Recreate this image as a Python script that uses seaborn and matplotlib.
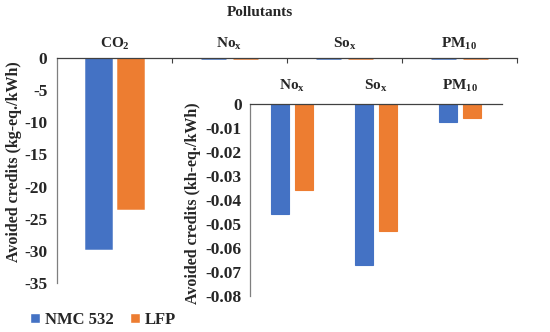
import matplotlib
matplotlib.use('Agg')
import matplotlib.pyplot as plt
import numpy as np
import pandas as pd
import seaborn as sns
from matplotlib.patches import Patch

# data
pollutants = ['CO$_\\mathrm{2}$', 'No$_\\mathrm{x}$', 'So$_\\mathrm{x}$', 'PM$_\\mathrm{10}$']
nmc532 = [-29.6, -0.046, -0.067, -0.0075]
lfp = [-23.3, -0.036, -0.053, -0.006]

inset_pollutants = ['No$_\\mathrm{x}$', 'So$_\\mathrm{x}$', 'PM$_\\mathrm{10}$']
inset_nmc532 = [-0.046, -0.067, -0.0075]
inset_lfp = [-0.036, -0.053, -0.006]

main_ticks = [0, -5, -10, -15, -20, -25, -30, -35]
inset_ticks = [0, -0.01, -0.02, -0.03, -0.04, -0.05, -0.06, -0.07, -0.08]
inset_tick_labels = ['0', '-0.01', '-0.02', '-0.03', '-0.04', '-0.05', '-0.06', '-0.07', '-0.08']

batteries = ['NMC 532', 'LFP']
colors = ['#4472C4', '#ED7D31']

sns.set_style('white')
plt.rcParams['font.family'] = ['Liberation Serif', 'DejaVu Serif']
plt.rcParams['font.weight'] = 'bold'
plt.rcParams['axes.unicode_minus'] = False
plt.rcParams['mathtext.fontset'] = 'custom'
plt.rcParams['mathtext.rm'] = 'Liberation Serif:bold'
plt.rcParams['mathtext.it'] = 'Liberation Serif:italic:bold'
plt.rcParams['mathtext.bf'] = 'Liberation Serif:bold'


def long_table(cats, a, b):
    return pd.DataFrame({
        'pollutant': cats * 2,
        'battery': [batteries[0]] * len(cats) + [batteries[1]] * len(cats),
        'value': list(a) + list(b),
    })


def style_axis(ax, cats, pad_top, pad_left, edge_lw):
    ax.xaxis.tick_top()
    ax.set_xticks(range(len(cats)))
    ax.set_xticklabels(cats, fontsize=11, fontweight='bold')
    ax.tick_params(axis='x', which='major', length=0, pad=pad_top)
    ax.tick_params(axis='y', length=0, pad=pad_left, labelsize=12.5)
    ax.set_xlabel('')
    for s in ['right', 'bottom']:
        ax.spines[s].set_visible(False)
    ax.spines['left'].set_color('#7f7f7f')
    ax.spines['top'].set_color('#404040')
    ax.spines['left'].set_linewidth(0.9)
    ax.spines['top'].set_linewidth(0.9)
    for lab in ax.get_yticklabels():
        lab.set_fontweight('bold')
    # outline in the bar colour so near-zero bars still show as a line
    for p in ax.patches:
        p.set_edgecolor(p.get_facecolor())
        p.set_linewidth(edge_lw)


fig = plt.figure(figsize=(5.5, 3.32), dpi=100)

# main chart
ax = fig.add_axes([57 / 550, 1 - 283 / 332, 460 / 550, 225 / 332])
sns.barplot(data=long_table(pollutants, nmc532, lfp), x='pollutant', y='value',
            hue='battery', palette=colors, width=0.57, gap=0.24,
            legend=False, ax=ax, saturation=1)
ax.set_ylim(-35, 0)
ax.set_xlim(-0.5, 3.5)
ax.set_yticks(main_ticks)
ax.set_yticklabels([str(t) for t in main_ticks])
style_axis(ax, pollutants, 4, 7, 1.8)
ax.set_xticks([0.5, 1.5, 2.5, 3.5], minor=True)
ax.tick_params(axis='x', which='minor', direction='in', length=3.5,
               width=0.8, color='#404040')
ax.set_ylabel('Avoided credits (kg-eq./kWh)', fontsize=11.5, fontweight='bold',
              va='center')
ax.yaxis.set_label_coords(-0.094, 0.54)

# inset chart
ax2 = fig.add_axes([250 / 550, 1 - 296 / 332, 252 / 550, 192 / 332])
ax2.set_facecolor('white')
sns.barplot(data=long_table(inset_pollutants, inset_nmc532, inset_lfp),
            x='pollutant', y='value', hue='battery', palette=colors,
            width=0.56, gap=0.22, legend=False, ax=ax2, saturation=1)
ax2.set_ylim(-0.08, 0)
ax2.set_xlim(-0.5, 2.5)
ax2.set_yticks(inset_ticks)
ax2.set_yticklabels(inset_tick_labels)
style_axis(ax2, inset_pollutants, 7, 6, 0.8)
ax2.set_ylabel('Avoided credits (kh-eq./kWh)', fontsize=11.5, fontweight='bold',
               va='center')
ax2.yaxis.set_label_coords(-0.225, 0.484)

fig.text(260 / 550, 1 - 12 / 332, 'Pollutants', ha='center', va='center',
         fontsize=11, fontweight='bold')

handles = [Patch(facecolor=c, label=b) for c, b in zip(colors, batteries)]
fig.legend(handles=handles, loc='center', bbox_to_anchor=(103 / 550, 1 - 320 / 332),
           ncol=2, frameon=False, handlelength=0.6, handleheight=0.6,
           handletextpad=0.3, columnspacing=1.0,
           prop={'size': 12, 'weight': 'bold'})

fig.savefig('out.png', dpi=100)
